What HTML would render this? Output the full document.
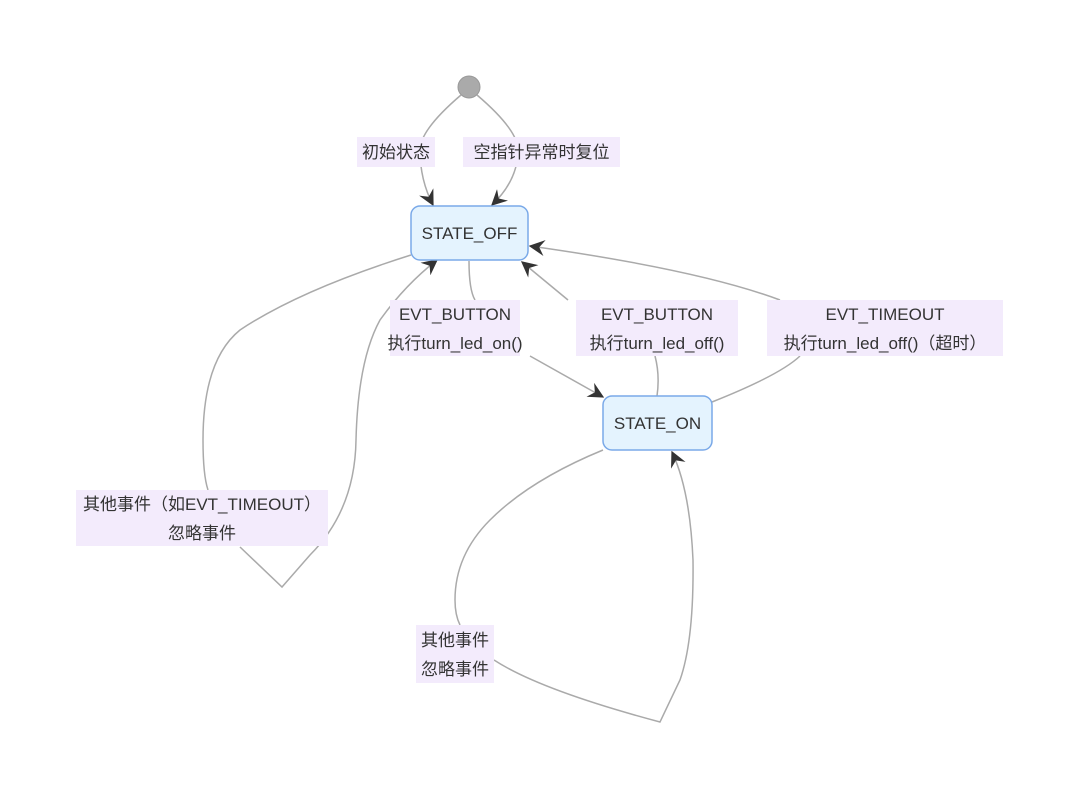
<!DOCTYPE html>
<html><head><meta charset="utf-8"><style>
html,body{margin:0;padding:0;background:#fff;width:1080px;height:800px;overflow:hidden}
svg text{font-family:"Liberation Sans","Noto Sans CJK SC",sans-serif;font-size:17px;fill:#333}
</style></head><body>
<svg width="1080" height="800" viewBox="0 0 1080 800" xmlns="http://www.w3.org/2000/svg">
<defs>
<marker id="a" viewBox="0 0 12 12" refX="11" refY="6" markerWidth="16" markerHeight="16" markerUnits="userSpaceOnUse" orient="auto">
<path d="M0,0 L12,6 L0,12 L4,6 Z" fill="#333"/>
</marker>
</defs>
<g fill="none" stroke="#aaa" stroke-width="1.5">
<path d="M461,95 Q420,130 420,150 Q420,180 433,205" marker-end="url(#a)"/>
<path d="M477,95 Q518,130 518,150 Q518,180 492,205" marker-end="url(#a)"/>
<path d="M469,261 Q469,290 475,300"/>
<path d="M530,356 L603,397" marker-end="url(#a)"/>
<path d="M657,396 Q660,375 655,356"/>
<path d="M568,300 L522,262" marker-end="url(#a)"/>
<path d="M712,402 Q780,375 800,356"/>
<path d="M780,300 Q700,270 530,246" marker-end="url(#a)"/>
<path d="M411,255 Q300,290 240,330 Q203,360 203,440 Q203,475 208,490"/>
<path d="M240,547 L282,587 L310,555 Q355,510 356,440 Q358,360 380,320 Q405,285 437,260" marker-end="url(#a)"/>
<path d="M603,450 Q530,480 490,520 Q455,555 455,600 Q455,615 460,625"/>
<path d="M494,660 Q540,690 660,722 L680,680 Q694,640 693,560 Q690,490 672,452" marker-end="url(#a)"/>
</g>
<circle cx="469" cy="87" r="11" fill="#aaa" stroke="#999" stroke-width="1"/>
<rect x="411" y="206" width="117" height="54" rx="9" fill="#e4f3fe" stroke="#7aa9e8" stroke-width="1.5"/>
<text x="469.5" y="239" text-anchor="middle">STATE_OFF</text>
<rect x="603" y="396" width="109" height="54" rx="9" fill="#e4f3fe" stroke="#7aa9e8" stroke-width="1.5"/>
<text x="657.5" y="429" text-anchor="middle">STATE_ON</text>
<g fill="#f3ebfc">
<rect x="357" y="137" width="78" height="30"/>
<rect x="463" y="137" width="157" height="30"/>
<rect x="390" y="300" width="130" height="56"/>
<rect x="576" y="300" width="162" height="56"/>
<rect x="767" y="300" width="236" height="56"/>
<rect x="76" y="490" width="252" height="56"/>
<rect x="416" y="625" width="78" height="58"/>
</g>
<text x="396" y="158" text-anchor="middle">初始状态</text>
<text x="541.5" y="158" text-anchor="middle">空指针异常时复位</text>
<text x="455" y="320" text-anchor="middle">EVT_BUTTON</text>
<text x="455" y="349" text-anchor="middle">执行turn_led_on()</text>
<text x="657" y="320" text-anchor="middle">EVT_BUTTON</text>
<text x="657" y="349" text-anchor="middle">执行turn_led_off()</text>
<text x="885" y="320" text-anchor="middle">EVT_TIMEOUT</text>
<text x="885" y="349" text-anchor="middle">执行turn_led_off()（超时）</text>
<text x="202" y="510" text-anchor="middle">其他事件（如EVT_TIMEOUT）</text>
<text x="202" y="539" text-anchor="middle">忽略事件</text>
<text x="455" y="646" text-anchor="middle">其他事件</text>
<text x="455" y="675" text-anchor="middle">忽略事件</text>
</svg>
</body></html>
